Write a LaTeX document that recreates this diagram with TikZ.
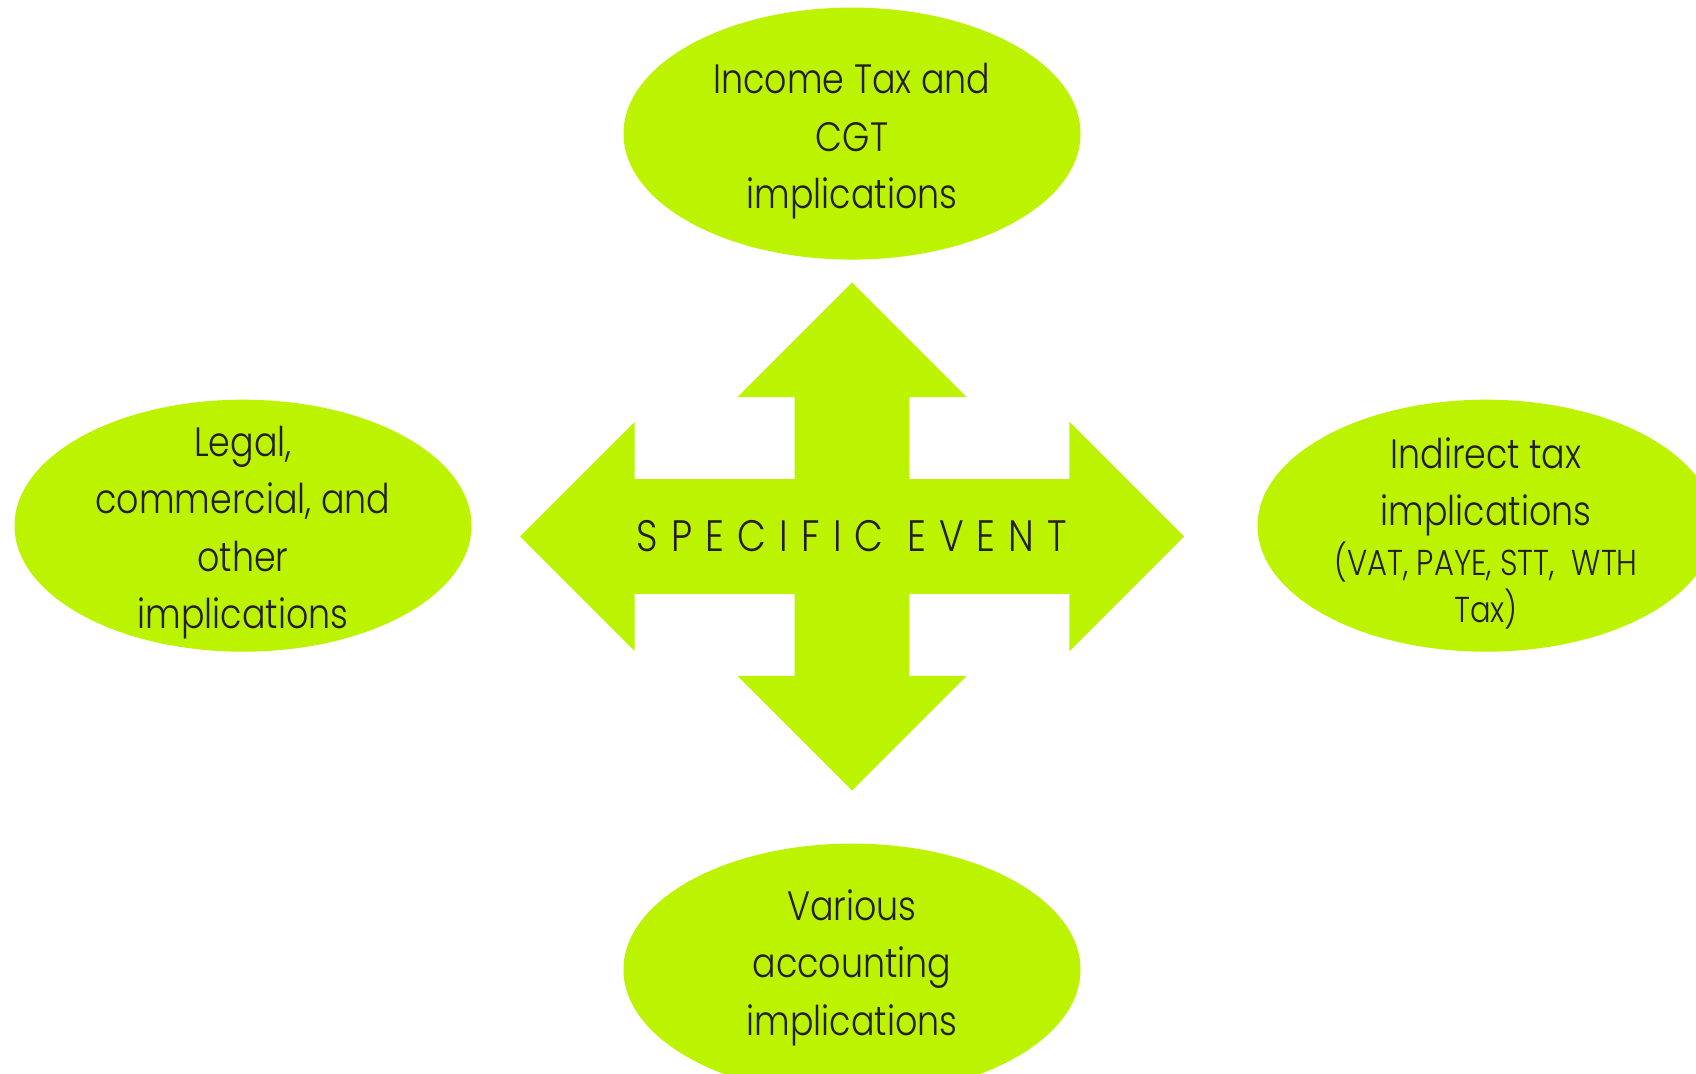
\documentclass[tikz,border=0pt]{standalone}
\usepackage{fontspec}
\setmainfont{Poppins Light}[FakeStretch=0.85]
\usetikzlibrary{shapes.geometric}
\definecolor{lime}{RGB}{188,243,0}
\definecolor{ink}{RGB}{35,31,32}

\begin{document}
\begin{tikzpicture}[x=1pt,y=1pt]
\tikzstyle{bubble}=[ellipse, fill=lime, inner sep=0pt, minimum width=457pt, minimum height=252pt]
\tikzstyle{note}=[align=center, inner sep=0pt, text=ink, font=\fontsize{41}{57.5}\selectfont]
\useasboundingbox (0,0) rectangle (1696,1073);
% four-way arrow
\coordinate (ev) at (852,536.5);
\fill [lime, shift={(ev)}] (0,254) -- (114.7,139.3) -- (57.3,139.3) -- (57.3,57.3) -- (217.3,57.3) -- (217.3,114.7) -- (332,0) -- (217.3,-114.7) -- (217.3,-57.3) -- (57.3,-57.3) -- (57.3,-139.3) -- (114.7,-139.3) -- (0,-254) -- (-114.7,-139.3) -- (-57.3,-139.3) -- (-57.3,-57.3) -- (-217.3,-57.3) -- (-217.3,-114.7) -- (-332,0) -- (-217.3,114.7) -- (-217.3,57.3) -- (-57.3,57.3) -- (-57.3,139.3) -- (-114.7,139.3) -- cycle;
\node [note, font=\fontsize{44}{57.5}\selectfont] (event) at (ev) {\addfontfeatures{LetterSpace=30}SPECIFIC EVENT};
% the four bubbles
\node [bubble] (income) at (852,939.4) {};
\node [bubble] (legal) at (243,547.3) {};
\node [bubble] (indirect) at (1486,547.3) {};
\node [bubble] (accounting) at (852,103.4) {};
\node [note, yshift=-7.6] (incometxt) at (income) {Income Tax and\\CGT\\implications};
\node [note, yshift=-7] (legaltxt) at (legal) {Legal,\\commercial, and\\other\\implications};
\node [note, yshift=-7.6] (indirecttxt) at (indirect) {Indirect tax\\implications\\[-8pt]{\fontsize{36}{42}\selectfont (VAT, PAYE, STT,\ \ WTH}\\[-10pt]{\fontsize{36}{42}\selectfont Tax)}};
\node [note, yshift=2.2] (accountingtxt) at (accounting) {Various\\accounting\\implications};
\end{tikzpicture}
\end{document}
